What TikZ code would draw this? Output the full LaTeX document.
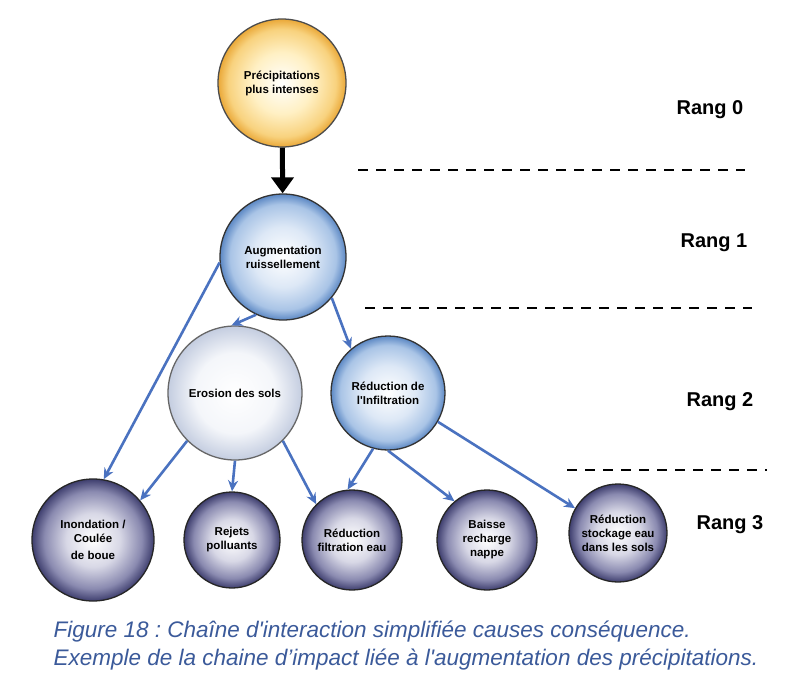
\documentclass[tikz,border=0pt]{standalone}
\usepackage{fontspec}
\setmainfont{Liberation Sans}
\usetikzlibrary{arrows.meta}
\frenchspacing
\definecolor{arr}{HTML}{4A72C0}
\definecolor{cap}{HTML}{3B5A9A}
\definecolor{dk1}{HTML}{D8D8E6}
\definecolor{dk2}{HTML}{8A8AB0}
\definecolor{dk3}{HTML}{3E3E6E}
\definecolor{bl1}{HTML}{DDE8F6}
\definecolor{bl2}{HTML}{A9C4E6}
\definecolor{bl3}{HTML}{5C88C4}
\definecolor{ye1}{HTML}{FFF0C4}
\definecolor{ye2}{HTML}{F8D27E}
\definecolor{ye3}{HTML}{EAA838}
\definecolor{wh1}{HTML}{F4F6FA}
\definecolor{wh2}{HTML}{C4CDE0}
\pgfdeclareradialshading{drk}{\pgfpoint{0bp}{0bp}}{color(0bp)=(white); color(11bp)=(dk1); color(20bp)=(dk2); color(25bp)=(dk3); color(50bp)=(dk3)}
\pgfdeclareradialshading{blu}{\pgfpoint{0bp}{0bp}}{color(0bp)=(white); color(12bp)=(bl1); color(21bp)=(bl2); color(25bp)=(bl3); color(50bp)=(bl3)}
\pgfdeclareradialshading{yel}{\pgfpoint{0bp}{0bp}}{color(0bp)=(white); color(12bp)=(ye1); color(21bp)=(ye2); color(25bp)=(ye3); color(50bp)=(ye3)}
\pgfdeclareradialshading{wht}{\pgfpoint{0bp}{0bp}}{color(0bp)=(white); color(15bp)=(wh1); color(25bp)=(wh2); color(50bp)=(wh2)}
\begin{document}
\begin{tikzpicture}[x=1pt,y=-1pt,
 circ/.style={circle,draw=#1,line width=1.3pt,align=center,font=\fontsize{11.5}{14}\selectfont\bfseries,text=black},
 yel/.style={circ=black!70,shading=yel},
 blu/.style={circ=black!80,shading=blu},
 wht/.style={circ=black!60,shading=wht},
 drk/.style={circ=black!85,shading=drk},
 a/.style={arr,line width=2.6pt,-{Stealth[length=11pt,width=10pt]}},
 dsh/.style={line width=2pt,dash pattern=on 10pt off 8pt},
 rang/.style={font=\fontsize{20}{22}\selectfont\bfseries}]
\useasboundingbox[fill=white] (0,0) rectangle (791,682);
\node[yel,minimum size=128pt] (p) at (282,83) {Précipitations\\plus intenses};
\node[blu,minimum size=126pt] (au) at (283,257) {Augmentation\\ruissellement};
\node[wht,minimum size=134pt] (er) at (235,393) {Erosion des sols};
\node[blu,minimum size=114pt] (in) at (388,393) {Réduction de\\l\textquotesingle Infiltration};
\node[drk,minimum size=122pt] (b1) at (93,540) {Inondation /\\Coulée\\[3pt]de boue};
\node[drk,minimum size=96pt] (b2) at (232,540) {Rejets\\polluants};
\node[drk,minimum size=100pt] (b3) at (352,540) {Réduction\\filtration eau};
\node[drk,minimum size=100pt] (b4) at (487,540) {Baisse\\recharge\\nappe};
\node[drk,minimum size=98pt] (b5) at (618,533) {Réduction\\stockage eau\\dans les sols};
\draw[line width=5pt,-{Triangle[length=16pt,width=22pt]}] (p) -- (au);
\draw[a] (au.185) -- (b1.80);
\draw[a] (au.245) -- (er.93);
\draw[a] (au.-40) -- (in.130);
\draw[a] (er.225) -- (b1.40);
\draw[a] (er.270) -- (b2.90);
\draw[a] (er.-45) -- (b3.135);
\draw[a] (in.255) -- (b3.95);
\draw[a] (in.-90) -- (b4.130);
\draw[a] (in.-30) -- (b5.150);
\coordinate (d1a) at (358,170); \coordinate (d1b) at (745,170);
\coordinate (d2a) at (365,308); \coordinate (d2b) at (752,308);
\coordinate (d3a) at (567,470); \coordinate (d3b) at (767,470);
\draw[dsh] (d1a) -- (d1b);
\draw[dsh] (d2a) -- (d2b);
\draw[dsh] (d3a) -- (d3b);
\node[rang] (r0) at (710,110) {Rang 0};
\node[rang] (r1) at (714,243) {Rang 1};
\node[rang] (r2) at (720,402) {Rang 2};
\node[rang] (r3) at (730,525) {Rang 3};
\node[anchor=west,align=left,text=cap,font=\fontsize{22.5}{28}\selectfont\itshape] (c) at (50,646)
 {Figure 18 : Chaîne d\textquotesingle interaction simplifiée causes conséquence.\\Exemple de la chaine d’impact liée à l\textquotesingle augmentation des précipitations.};
\end{tikzpicture}
\end{document}
